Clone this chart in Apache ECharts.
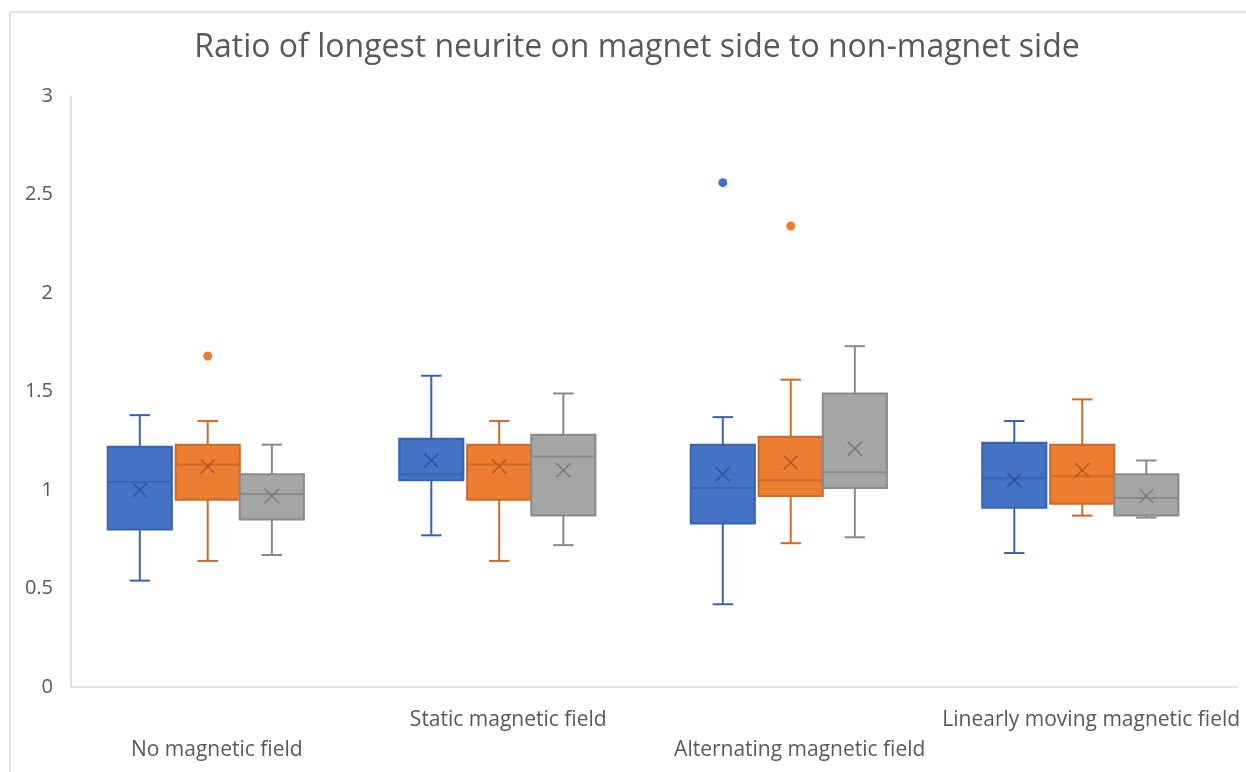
<!DOCTYPE html>
<html>
<head>
<meta charset="utf-8">
<script src="https://cdn.jsdelivr.net/npm/echarts@6/dist/echarts.min.js"></script>
<style>
  html, body { margin: 0; padding: 0; background: #fff; }
  #main { width: 1246px; height: 772px; }
</style>
</head>
<body>
<div id="main"></div>
<script>
var categories = ['No magnetic field', 'Static magnetic field', 'Alternating magnetic field', 'Linearly moving magnetic field'];

// [lower whisker, Q1, median, Q3, upper whisker]
var blueBoxes = [
  [0.54, 0.80, 1.04, 1.22, 1.38],
  [0.77, 1.05, 1.08, 1.26, 1.58],
  [0.42, 0.83, 1.01, 1.23, 1.37],
  [0.68, 0.91, 1.06, 1.24, 1.35]
];
var blueMeans = [1.00, 1.15, 1.08, 1.05];
var blueOutliers = [[2, 2.56]];

var orangeBoxes = [
  [0.64, 0.95, 1.13, 1.23, 1.35],
  [0.64, 0.95, 1.13, 1.23, 1.35],
  [0.73, 0.97, 1.05, 1.27, 1.56],
  [0.87, 0.93, 1.07, 1.23, 1.46]
];
var orangeMeans = [1.12, 1.12, 1.14, 1.10];
var orangeOutliers = [[0, 1.68], [2, 2.34]];

var grayBoxes = [
  [0.67, 0.85, 0.98, 1.08, 1.23],
  [0.72, 0.87, 1.17, 1.28, 1.49],
  [0.76, 1.01, 1.09, 1.49, 1.73],
  [0.86, 0.87, 0.96, 1.08, 1.15]
];
var grayMeans = [0.97, 1.10, 1.21, 0.97];
var grayOutliers = [];

var FONT = '"Open Sans", "Noto Sans", sans-serif';

var blueStyle = { fill: '#4472C4', border: '#3A63AE', mark: '#2F5597', off: -0.264 };
var orangeStyle = { fill: '#ED7D31', border: '#CC6A28', mark: '#B65A1E', off: -0.031 };
var grayStyle = { fill: '#A5A5A5', border: '#8A8A8A', mark: '#7A7A7A', off: 0.189 };

function toRows(boxes, means) {
  return boxes.map(function (b, i) { return [i].concat(b, [means[i]]); });
}

// box, whiskers, median and mean cross, placed by the axes
function boxRenderer(st) {
  return function (params, api) {
    var band = api.size([1, 0])[0];
    var cat = api.value(0);
    var cx = api.coord([cat, 0])[0] + st.off * band;
    var half = band * 0.11;
    var cap = band * 0.035;
    var y = function (d) { return api.coord([cat, api.value(d)])[1]; };
    var lo = y(1), q1 = y(2), med = y(3), q3 = y(4), hi = y(5), mean = y(6);
    var m = 7;
    var ln = { stroke: st.border, lineWidth: 2 };
    return {
      type: 'group',
      children: [
        { type: 'line', shape: { x1: cx, y1: hi, x2: cx, y2: q3 }, style: ln },
        { type: 'line', shape: { x1: cx, y1: q1, x2: cx, y2: lo }, style: ln },
        { type: 'line', shape: { x1: cx - cap, y1: hi, x2: cx + cap, y2: hi }, style: ln },
        { type: 'line', shape: { x1: cx - cap, y1: lo, x2: cx + cap, y2: lo }, style: ln },
        { type: 'rect', shape: { x: cx - half, y: q3, width: half * 2, height: q1 - q3 },
          style: { fill: st.fill, stroke: st.border, lineWidth: 2 } },
        { type: 'line', shape: { x1: cx - half, y1: med, x2: cx + half, y2: med }, style: ln },
        { type: 'line', shape: { x1: cx - m, y1: mean - m, x2: cx + m, y2: mean + m }, style: { stroke: st.mark, lineWidth: 1.5 } },
        { type: 'line', shape: { x1: cx - m, y1: mean + m, x2: cx + m, y2: mean - m }, style: { stroke: st.mark, lineWidth: 1.5 } }
      ]
    };
  };
}

function outlierRenderer(st) {
  return function (params, api) {
    var band = api.size([1, 0])[0];
    var p = api.coord([api.value(0), api.value(1)]);
    return { type: 'circle', shape: { cx: p[0] + st.off * band, cy: p[1], r: 4.5 }, style: { fill: st.fill } };
  };
}

function boxSeries(name, boxes, means, st) {
  return {
    name: name, type: 'custom', renderItem: boxRenderer(st),
    encode: { x: 0, y: [1, 2, 3, 4, 5, 6] },
    data: toRows(boxes, means), silent: true
  };
}
function outlierSeries(name, pts, st) {
  return {
    name: name, type: 'custom', renderItem: outlierRenderer(st),
    encode: { x: 0, y: 1 }, data: pts, silent: true
  };
}

var chart = echarts.init(document.getElementById('main'));
chart.setOption({
  backgroundColor: '#fff',
  animation: false,
  title: {
    text: 'Ratio of longest neurite on magnet side to non-magnet side',
    left: 632, top: 27, textAlign: 'center',
    textStyle: { fontFamily: FONT, fontSize: 32, fontWeight: 'normal', color: '#595959' }
  },
  graphic: [{
    type: 'rect', silent: true,
    shape: { x: 10, y: 12, width: 1300, height: 820 },
    style: { fill: 'none', stroke: '#D9D9D9', lineWidth: 1.5 }
  }],
  grid: { left: 71, right: 9, top: 96, bottom: 85 },
  xAxis: {
    type: 'category', data: categories,
    axisLine: { lineStyle: { color: '#D9D9D9', width: 1.5 } },
    axisTick: { show: false },
    axisLabel: {
      interval: 0, margin: 18, verticalAlign: 'top', lineHeight: 30,
      fontFamily: FONT, fontSize: 21, color: '#595959',
      formatter: function (v, i) { return i % 2 === 0 ? '\n' + v : v; }
    },
    splitLine: { show: false }
  },
  yAxis: {
    type: 'value', min: 0, max: 3, interval: 0.5,
    axisLine: { show: true, lineStyle: { color: '#D9D9D9', width: 1.5 } },
    axisTick: { show: false },
    splitLine: { show: false },
    axisLabel: { margin: 18, fontFamily: FONT, fontSize: 20, color: '#595959' }
  },
  series: [
    boxSeries('blue', blueBoxes, blueMeans, blueStyle),
    boxSeries('orange', orangeBoxes, orangeMeans, orangeStyle),
    boxSeries('gray', grayBoxes, grayMeans, grayStyle),
    outlierSeries('blue outliers', blueOutliers, blueStyle),
    outlierSeries('orange outliers', orangeOutliers, orangeStyle),
    outlierSeries('gray outliers', grayOutliers, grayStyle)
  ]
});
</script>
</body>
</html>
